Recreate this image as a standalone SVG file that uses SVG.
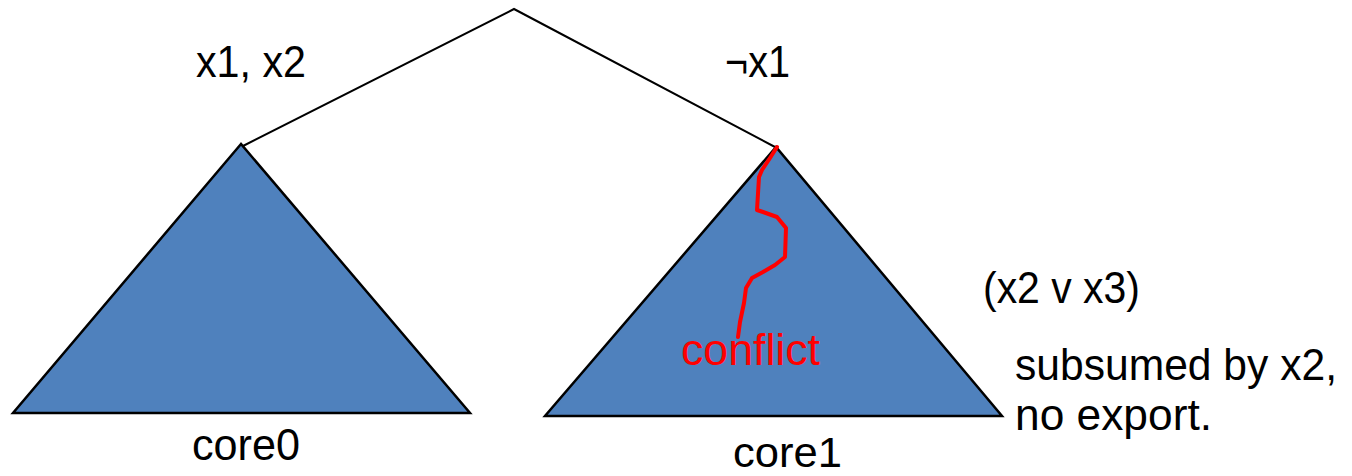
<svg xmlns="http://www.w3.org/2000/svg" width="1352" height="476" viewBox="0 0 1352 476">
<style>
.tri{fill:#4f81bd;stroke:#000;stroke-width:2.5;stroke-linejoin:miter}
.edge{fill:none;stroke:#000;stroke-width:2}
.t{font-family:"Liberation Sans","Open Sans",sans-serif;font-size:44px;fill:#000}
.red{fill:#ff0000}
</style>
<rect width="1352" height="476" fill="#fff"/>
<g id="connectors">
<path class="edge" d="M243,146 L514,9 L775,147"/>
</g>
<g id="core0">
<polygon class="tri" points="241,144 13,413 470,413"/>
<text class="t" x="192" y="460" textLength="108" lengthAdjust="spacingAndGlyphs">core0</text>
</g>
<g id="core1">
<polygon class="tri" points="776,147 545,416 1002,416"/>
<text class="t" x="733" y="467" font-size="42" textLength="109" lengthAdjust="spacingAndGlyphs" style="font-size:42px">core1</text>
<path d="M777,147 L770,158 L762,170 L759,177 L757,210 L763,212 L777,217 L786,228 L785,257 L775,265 L763,272 L752,278 L746,288 L744,303 L740,322 L738,337" fill="none" stroke="#ff0000" stroke-width="4" stroke-linejoin="round" stroke-linecap="round"/>
<text class="t red" x="681" y="365" textLength="139" lengthAdjust="spacingAndGlyphs">conflict</text>
</g>
<g id="labels">
<text class="t" x="196" y="77" textLength="110" lengthAdjust="spacingAndGlyphs">x1, x2</text>
<text class="t" x="725" y="77" textLength="65" lengthAdjust="spacingAndGlyphs">¬x1</text>
<text class="t" x="983" y="303" textLength="157" lengthAdjust="spacingAndGlyphs">(x2 v x3)</text>
<text class="t" x="1015" y="380" textLength="322" lengthAdjust="spacingAndGlyphs">subsumed by x2,</text>
<text class="t" x="1015" y="430" textLength="197" lengthAdjust="spacingAndGlyphs">no export.</text>
</g>
</svg>
